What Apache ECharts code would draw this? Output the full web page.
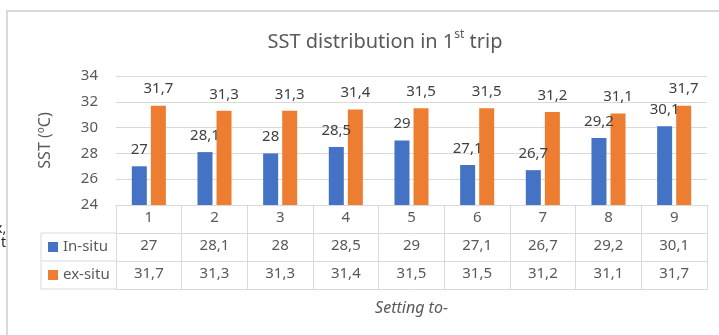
<!DOCTYPE html>
<html>
<head>
<meta charset="utf-8">
<script src="https://cdn.jsdelivr.net/npm/echarts@6/dist/echarts.min.js"></script>
<style>
  html, body { margin: 0; padding: 0; background: #fff; }
  #chart { width: 719px; height: 335px; }
</style>
</head>
<body>
<div id="chart"></div>
<script>
// Sea surface temperature per setting, first trip
const settings = ['1', '2', '3', '4', '5', '6', '7', '8', '9'];
const inSitu = [27, 28.1, 28, 28.5, 29, 27.1, 26.7, 29.2, 30.1];
const exSitu = [31.7, 31.3, 31.3, 31.4, 31.5, 31.5, 31.2, 31.1, 31.7];
const seriesNames = ['In-situ', 'ex-situ'];
const yMin = 24, yMax = 34, yStep = 2;

const FONT = 'Noto Sans';
const TEXT = '#595959';
const LINE = '#d9d9d9';
const BLUE = '#4472C4';
const ORANGE = '#ED7D31';

// plot box and data-table geometry
const G = { left: 116, right: 12, top: 76, bottom: 130 };
const ROW = 28;          // data-table row height
const TABLE_LEFT = 41;   // left edge of the series-name column
const axisY = 335 - G.bottom;

const comma = v => String(v).replace('.', ',');

// one category axis per table row, each shifted down by a row;
// its ticks draw the cell borders of that row
function tableAxis(offset, values) {
  return {
    type: 'category',
    data: settings,
    position: 'bottom',
    offset: offset,
    axisLine: { show: true, lineStyle: { color: LINE, width: 1 } },
    axisTick: { show: true, length: ROW, lineStyle: { color: LINE, width: 1 } },
    axisLabel: {
      margin: 5,
      fontFamily: FONT, fontSize: 15, color: TEXT,
      formatter: (val, idx) => values ? comma(values[idx]) : val
    },
    splitLine: { show: false }
  };
}

const hLine = (x1, x2, y) => ({
  type: 'line', silent: true,
  shape: { x1, y1: y, x2, y2: y },
  style: { stroke: LINE, lineWidth: 1 }
});

const barLabel = {
  show: true, position: 'top', distance: 9,
  fontFamily: FONT, fontSize: 15, color: '#404040',
  formatter: p => comma(p.value)
};

const chart = echarts.init(document.getElementById('chart'), null, { renderer: 'canvas' });

chart.setOption({
  animation: false,
  backgroundColor: '#fff',
  title: {
    text: '{a|SST distribution in 1}{s|st}{a| trip}',
    left: 380, top: 24, textAlign: 'center',
    textStyle: {
      rich: {
        a: { fontFamily: FONT, fontSize: 20, fontWeight: 'normal', color: TEXT, lineHeight: 26 },
        s: { fontFamily: FONT, fontSize: 12, fontWeight: 'normal', color: TEXT, verticalAlign: 'top', lineHeight: 26, padding: [0, 0, 10, 0] }
      }
    }
  },
  legend: {
    orient: 'vertical',
    left: 48, top: 238,
    padding: 0,
    icon: 'rect', itemWidth: 10, itemHeight: 10, itemGap: 10,
    selectedMode: false,
    textStyle: { fontFamily: FONT, fontSize: 15, color: TEXT, lineHeight: 18 },
    data: seriesNames
  },
  grid: { left: G.left, right: G.right, top: G.top, bottom: G.bottom },
  yAxis: {
    type: 'value', min: yMin, max: yMax, interval: yStep,
    name: 'SST (ºC)', nameLocation: 'middle', nameGap: 63, nameRotate: 90,
    nameTextStyle: { fontFamily: FONT, fontSize: 16, color: TEXT },
    axisLine: { show: false }, axisTick: { show: false },
    axisLabel: { margin: 18, fontFamily: FONT, fontSize: 15, color: TEXT },
    splitLine: { lineStyle: { color: LINE, width: 1 } }
  },
  xAxis: [
    tableAxis(0, null),
    tableAxis(ROW, inSitu),
    tableAxis(ROW * 2, exSitu),
    {
      type: 'category', data: settings, position: 'bottom', offset: ROW * 3,
      axisLine: { show: true, lineStyle: { color: LINE, width: 1 } },
      axisTick: { show: false }, axisLabel: { show: false }, splitLine: { show: false },
      name: 'Setting to-', nameLocation: 'middle', nameGap: 11,
      nameTextStyle: { fontFamily: FONT, fontSize: 16, color: TEXT, fontStyle: 'italic' }
    }
  ],
  series: [
    {
      name: seriesNames[0], type: 'bar', data: inSitu,
      barWidth: 15, barGap: '27%',
      itemStyle: { color: BLUE },
      label: barLabel
    },
    {
      name: seriesNames[1], type: 'bar', data: exSitu,
      barWidth: 15, barGap: '27%',
      itemStyle: { color: ORANGE },
      label: barLabel
    }
  ],
  graphic: [
    // chart frame
    { type: 'rect', silent: true, shape: { x: 7, y: 11, width: 760, height: 400 }, style: { fill: 'none', stroke: LINE, lineWidth: 2 } },
    // series-name column of the data table
    hLine(TABLE_LEFT, G.left, axisY + ROW),
    hLine(TABLE_LEFT, G.left, axisY + ROW * 2),
    hLine(TABLE_LEFT, G.left, axisY + ROW * 3),
    { type: 'line', silent: true, shape: { x1: TABLE_LEFT, y1: axisY + ROW, x2: TABLE_LEFT, y2: axisY + ROW * 3 }, style: { stroke: LINE, lineWidth: 1 } },
    // neighbouring page text at the left margin
    { type: 'text', silent: true, x: -5, y: 222, style: { text: 'x,', fontFamily: FONT, fontSize: 14, fill: '#222' } },
    { type: 'text', silent: true, x: 1, y: 236, style: { text: 't', fontFamily: FONT, fontSize: 14, fill: '#222' } }
  ]
});
</script>
</body>
</html>
